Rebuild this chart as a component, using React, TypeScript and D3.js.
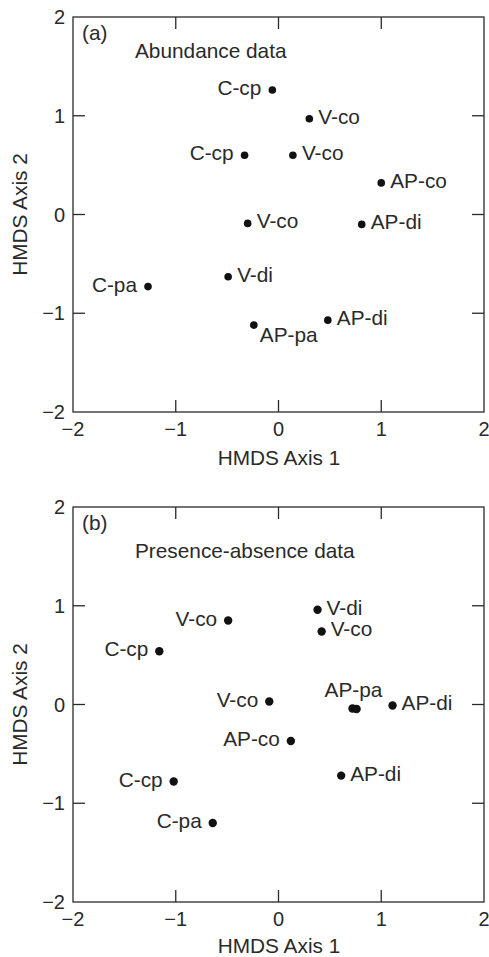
import React from "react";
import * as d3 from "d3";

// Panel (a): Abundance data
const aLabels = ["C-cp", "V-co", "C-cp", "V-co", "AP-co", "V-co", "AP-di", "V-di", "C-pa", "AP-pa", "AP-di"];
const aX = [-0.06, 0.30, -0.33, 0.14, 1.00, -0.30, 0.81, -0.49, -1.27, -0.24, 0.48];
const aY = [1.26, 0.97, 0.60, 0.60, 0.32, -0.09, -0.10, -0.63, -0.73, -1.12, -1.07];
const aSide = ["L", "R", "L", "R", "R", "R", "R", "R", "L", "BR", "R"];

// Panel (b): Presence-absence data
const bLabels = ["V-di", "V-co", "V-co", "C-cp", "V-co", "AP-pa", "", "AP-di", "AP-co", "AP-di", "C-cp", "C-pa"];
const bX = [0.38, -0.49, 0.42, -1.16, -0.09, 0.72, 0.76, 1.11, 0.12, 0.61, -1.02, -0.64];
const bY = [0.96, 0.85, 0.74, 0.54, 0.03, -0.04, -0.045, -0.01, -0.37, -0.72, -0.78, -1.20];
const bSide = ["R", "L", "R", "L", "L", "T", "T", "R", "L", "R", "L", "L"];

const ticks = [-2, -1, 0, 1, 2];
const xTitle = "HMDS Axis 1";
const yTitle = "HMDS Axis 2";

const FONT = "'Liberation Sans', Arial, Helvetica, sans-serif";
const INK = "#2a2a2a";
const FS = 20.8;

function fmt(v: number) {
  return v < 0 ? "\u2212" + Math.abs(v) : String(v);
}

function Panel(props: {
  top: number;
  tag: string;
  title: string;
  titleDy: number;
  xTitleDy: number;
  labels: string[];
  xs: number[];
  ys: number[];
  sides: string[];
  r: number;
}) {
  const { top, tag, title, titleDy, xTitleDy, labels, xs, ys, sides, r } = props;
  const left = 73, right = 484, bottom = top + 395;
  const x = d3.scaleLinear().domain([-2, 2]).range([left, right]);
  const y = d3.scaleLinear().domain([-2, 2]).range([bottom, top]);
  const tl = 12;
  return (
    <g>
      <rect x={left} y={top} width={right - left} height={bottom - top} fill="none" stroke={INK} strokeWidth={1.3} />
      {ticks.slice(1, -1).map((t) => (
        <g key={"t" + t} stroke={INK} strokeWidth={1.3}>
          <line x1={x(t)} x2={x(t)} y1={bottom} y2={bottom - tl} />
          <line x1={x(t)} x2={x(t)} y1={top} y2={top + tl} />
          <line x1={left} x2={left + tl} y1={y(t)} y2={y(t)} />
          <line x1={right} x2={right - tl} y1={y(t)} y2={y(t)} />
        </g>
      ))}
      {ticks.map((t) => (
        <text key={"xl" + t} x={x(t)} y={bottom + 24} textAnchor="middle" fontSize={20} fontFamily={FONT} fill={INK}>
          {fmt(t)}
        </text>
      ))}
      {ticks.map((t) => (
        <text key={"yl" + t} x={left - 8} y={y(t)} dy="0.36em" textAnchor="end" fontSize={20} fontFamily={FONT} fill={INK}>
          {fmt(t)}
        </text>
      ))}
      <text x={(left + right) / 2 + 0.5} y={bottom + xTitleDy} textAnchor="middle" fontSize={FS} fontFamily={FONT} fill={INK}>
        {xTitle}
      </text>
      <text
        transform={`translate(${27},${(top + bottom) / 2}) rotate(-90)`}
        textAnchor="middle"
        fontSize={FS}
        fontFamily={FONT}
        fill={INK}
      >
        {yTitle}
      </text>
      <text x={82} y={top + 23} fontSize={FS} fontFamily={FONT} fill={INK}>
        {tag}
      </text>
      <text x={135} y={top + titleDy} fontSize={FS} fontFamily={FONT} fill={INK}>
        {title}
      </text>
      {labels.map((lab, i) => {
        const px = x(xs[i]);
        const py = y(ys[i]);
        const s = sides[i];
        let tx = px, ty = py + 5, anchor = "start";
        if (s === "L") { tx = px - 11; anchor = "end"; }
        else if (s === "R") { tx = px + 9; }
        else if (s === "BR") { tx = px + 6; ty = py + 17; }
        else if (s === "T") { tx = px + 1; ty = py - 11; anchor = "middle"; }
        return (
          <g key={"p" + i}>
            <circle cx={px} cy={py} r={r} fill="#111" />
            {lab && (
              <text x={tx} y={ty} textAnchor={anchor} fontSize={FS} fontFamily={FONT} fill={INK}>
                {lab}
              </text>
            )}
          </g>
        );
      })}
    </g>
  );
}

export default function App() {
  return (
    <svg width={489} height={957} style={{ position: "absolute", left: 0, top: 0, background: "#fff" }}>
      <rect width={489} height={957} fill="#fff" />
      <Panel top={17} tag="(a)" title="Abundance data" titleDy={41} xTitleDy={53} labels={aLabels} xs={aX} ys={aY} sides={aSide} r={3.8} />
      <Panel top={507} tag="(b)" title="Presence-absence data" titleDy={51} xTitleDy={51} labels={bLabels} xs={bX} ys={bY} sides={bSide} r={4.2} />
    </svg>
  );
}
